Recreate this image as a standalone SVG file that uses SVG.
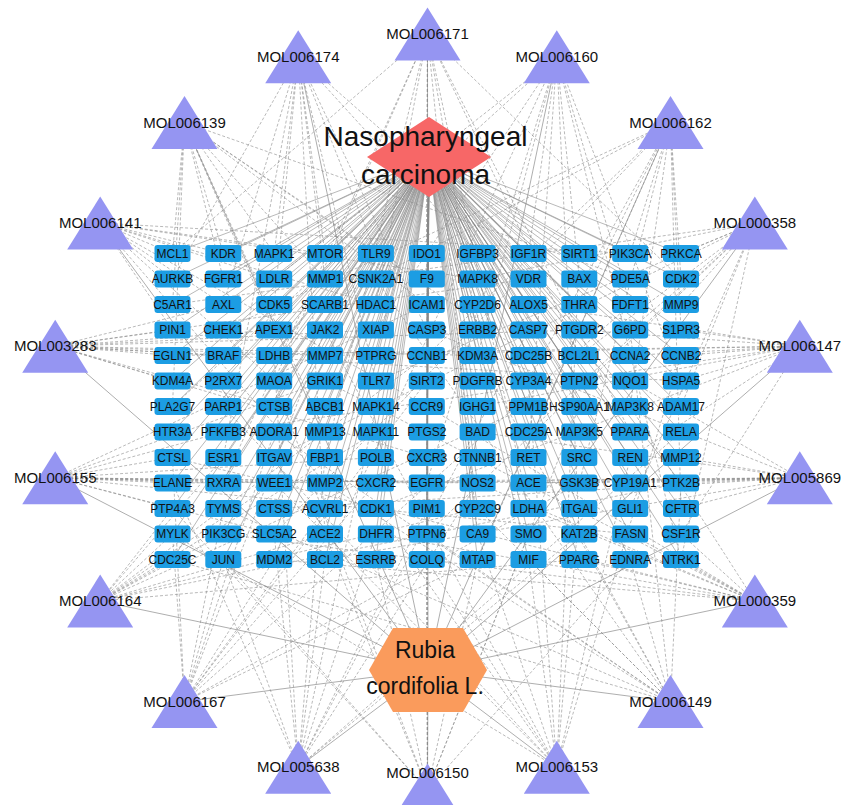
<svg xmlns="http://www.w3.org/2000/svg" xmlns:xlink="http://www.w3.org/1999/xlink" width="844" height="805" viewBox="0 0 844 805">
<style>
.e1{stroke:#8a8a8a;stroke-width:0.6;fill:none}
.e2{stroke:#8a8a8a;stroke-width:0.6;fill:none;stroke-dasharray:3 2}
.e3{stroke:#999;stroke-width:0.8;fill:none}
.genes text{font-family:"Liberation Sans",Arial,sans-serif;font-size:12px;text-anchor:middle;fill:#111}
.mols text{font-family:"Liberation Sans",Arial,sans-serif;font-size:15px;text-anchor:middle;fill:#111}
.big{font-family:"Liberation Sans",Arial,sans-serif;text-anchor:middle;fill:#111}
</style>
<defs>
<rect id="box" x="-18" y="-8.5" width="36" height="17" rx="3" fill="#1c9de3"/>
<polygon id="tri" points="0,-26.5 33,26.5 -33,26.5" fill="#9595f2"/>
</defs>
<rect width="844" height="805" fill="#fff"/>
<g id="connectors">
<path class="e3" d="M428 670L427.5 34M428 670L556.8 56.7M428 670L670.5 122.5M428 670L754.8 223M428 670L799.8 346.2M428 670L799.8 477.8M428 670L754.8 601M428 670L670.5 701.5M428 670L556.8 767.3M428 670L427.5 790M428 670L298.2 767.3M428 670L184.5 701.5M428 670L100.2 601M428 670L55.2 477.8M428 670L55.2 346.2M428 670L100.2 223M428 670L184.5 122.5M428 670L298.2 56.7"/>
<path class="e1" d="M429 157L172.5 253.5M429 157L223.3 253.5M429 157L274.2 253.5M429 157L325 253.5M429 157L375.9 253.5M429 157L426.8 253.5M429 157L477.6 253.5M429 157L528.5 253.5M429 157L579.3 253.5M429 157L630.2 253.5M429 157L681 253.5
M429 157L172.5 279M429 157L223.3 279M429 157L274.2 279M429 157L325 279M429 157L375.9 279M429 157L426.8 279M429 157L477.6 279M429 157L528.5 279M429 157L579.3 279M429 157L630.2 279M429 157L681 279
M429 157L172.5 304.5M429 157L223.3 304.5M429 157L274.2 304.5M429 157L325 304.5M429 157L375.9 304.5M429 157L426.8 304.5M429 157L477.6 304.5M429 157L528.5 304.5M429 157L579.3 304.5M429 157L630.2 304.5M429 157L681 304.5
M429 157L172.5 330M429 157L223.3 330M429 157L274.2 330M429 157L325 330M429 157L375.9 330M429 157L426.8 330M429 157L477.6 330M429 157L528.5 330M429 157L579.3 330M429 157L630.2 330M429 157L681 330
M429 157L172.5 355.5M429 157L223.3 355.5M429 157L274.2 355.5M429 157L325 355.5M429 157L375.9 355.5M429 157L426.8 355.5M429 157L477.6 355.5M429 157L528.5 355.5M429 157L579.3 355.5M429 157L630.2 355.5M429 157L681 355.5
M429 157L172.5 381M429 157L223.3 381M429 157L274.2 381M429 157L325 381M429 157L375.9 381M429 157L426.8 381M429 157L477.6 381M429 157L528.5 381M429 157L579.3 381M429 157L630.2 381M429 157L681 381
M429 157L172.5 406.5M429 157L223.3 406.5M429 157L274.2 406.5M429 157L325 406.5M429 157L375.9 406.5M429 157L426.8 406.5M429 157L477.6 406.5M429 157L528.5 406.5M429 157L579.3 406.5M429 157L630.2 406.5M429 157L681 406.5
M429 157L172.5 432M429 157L223.3 432M429 157L274.2 432M429 157L325 432M429 157L375.9 432M429 157L426.8 432M429 157L477.6 432M429 157L528.5 432M429 157L579.3 432M429 157L630.2 432M429 157L681 432
M429 157L172.5 457.5M429 157L223.3 457.5M429 157L274.2 457.5M429 157L325 457.5M429 157L375.9 457.5M429 157L426.8 457.5M429 157L477.6 457.5M429 157L528.5 457.5M429 157L579.3 457.5M429 157L630.2 457.5M429 157L681 457.5
M429 157L172.5 483M429 157L223.3 483M429 157L274.2 483M429 157L325 483M429 157L375.9 483M429 157L426.8 483M429 157L477.6 483M429 157L528.5 483M429 157L579.3 483M429 157L630.2 483M429 157L681 483
M429 157L172.5 508.5M429 157L223.3 508.5M429 157L274.2 508.5M429 157L325 508.5M429 157L375.9 508.5M429 157L426.8 508.5M429 157L477.6 508.5M429 157L528.5 508.5M429 157L579.3 508.5M429 157L630.2 508.5M429 157L681 508.5
M429 157L172.5 534M429 157L223.3 534M429 157L274.2 534M429 157L325 534M429 157L375.9 534M429 157L426.8 534M429 157L477.6 534M429 157L528.5 534M429 157L579.3 534M429 157L630.2 534M429 157L681 534
M429 157L172.5 559.5M429 157L223.3 559.5M429 157L274.2 559.5M429 157L325 559.5M429 157L375.9 559.5M429 157L426.8 559.5M429 157L477.6 559.5M429 157L528.5 559.5M429 157L579.3 559.5M429 157L630.2 559.5M429 157L681 559.5"/>
<path class="e2" d="M427.5 34L426.8 253.5M427.5 34L426.8 279M427.5 34L375.9 304.5M427.5 34L477.6 330M427.5 34L274.2 381M427.5 34L579.3 355.5M427.5 34L172.5 253.5M427.5 34L681 279M427.5 34L325 457.5M427.5 34L528.5 508.5M427.5 34L426.8 559.5M427.5 34L223.3 483M427.5 34L630.2 432M427.5 34L477.6 534"/>
<path class="e2" d="M556.8 56.7L528.5 253.5M556.8 56.7L579.3 279M556.8 56.7L630.2 304.5M556.8 56.7L477.6 355.5M556.8 56.7L681 381M556.8 56.7L375.9 330M556.8 56.7L274.2 279M556.8 56.7L528.5 457.5M556.8 56.7L579.3 534M556.8 56.7L172.5 406.5M556.8 56.7L426.8 483M556.8 56.7L681 559.5M556.8 56.7L325 559.5"/>
<path class="e2" d="M670.5 122.5L630.2 253.5M670.5 122.5L681 279M670.5 122.5L579.3 304.5M670.5 122.5L681 330M670.5 122.5L528.5 381M670.5 122.5L630.2 406.5M670.5 122.5L426.8 355.5M670.5 122.5L325 304.5M670.5 122.5L223.3 330M670.5 122.5L579.3 483M670.5 122.5L477.6 559.5M670.5 122.5L681 508.5M670.5 122.5L274.2 534"/>
<path class="e2" d="M754.8 223L681 253.5M754.8 223L681 304.5M754.8 223L630.2 330M754.8 223L579.3 355.5M754.8 223L681 406.5M754.8 223L477.6 279M754.8 223L528.5 432M754.8 223L375.9 381M754.8 223L172.5 304.5M754.8 223L274.2 457.5M754.8 223L630.2 508.5M754.8 223L426.8 534M754.8 223L681 559.5"/>
<path class="e2" d="M799.8 346.2L681 330M799.8 346.2L681 355.5M799.8 346.2L630.2 355.5M799.8 346.2L681 381M799.8 346.2L579.3 330M799.8 346.2L477.6 406.5M799.8 346.2L325 355.5M799.8 346.2L172.5 355.5M799.8 346.2L630.2 457.5M799.8 346.2L528.5 304.5M799.8 346.2L223.3 432M799.8 346.2L375.9 508.5M799.8 346.2L681 534"/>
<path class="e2" d="M799.8 477.8L681 483M799.8 477.8L630.2 483M799.8 477.8L579.3 483M799.8 477.8L528.5 483M799.8 477.8L681 457.5M799.8 477.8L681 508.5M799.8 477.8L477.6 432M799.8 477.8L375.9 483M799.8 477.8L172.5 483M799.8 477.8L274.2 508.5M799.8 477.8L630.2 381M799.8 477.8L426.8 330M799.8 477.8L325 559.5"/>
<path class="e2" d="M754.8 601L681 559.5M754.8 601L630.2 534M754.8 601L681 534M754.8 601L579.3 559.5M754.8 601L528.5 508.5M754.8 601L477.6 483M754.8 601L375.9 534M754.8 601L274.2 559.5M754.8 601L172.5 457.5M754.8 601L630.2 406.5M754.8 601L426.8 406.5M754.8 601L325 381M754.8 601L223.3 534"/>
<path class="e2" d="M670.5 701.5L630.2 559.5M670.5 701.5L579.3 534M670.5 701.5L528.5 559.5M670.5 701.5L681 483M670.5 701.5L477.6 508.5M670.5 701.5L426.8 534M670.5 701.5L325 483M670.5 701.5L223.3 508.5M670.5 701.5L630.2 330M670.5 701.5L477.6 355.5M670.5 701.5L274.2 432M670.5 701.5L172.5 559.5M670.5 701.5L375.9 279"/>
<path class="e2" d="M556.8 767.3L528.5 559.5M556.8 767.3L579.3 508.5M556.8 767.3L477.6 534M556.8 767.3L426.8 559.5M556.8 767.3L630.2 457.5M556.8 767.3L375.9 508.5M556.8 767.3L274.2 483M556.8 767.3L172.5 534M556.8 767.3L528.5 381M556.8 767.3L681 355.5M556.8 767.3L325 330M556.8 767.3L579.3 253.5M556.8 767.3L223.3 406.5"/>
<path class="e2" d="M427.5 790L426.8 559.5M427.5 790L375.9 559.5M427.5 790L477.6 559.5M427.5 790L426.8 508.5M427.5 790L325 534M427.5 790L528.5 534M427.5 790L223.3 559.5M427.5 790L630.2 559.5M427.5 790L426.8 432M427.5 790L274.2 381M427.5 790L579.3 406.5M427.5 790L426.8 304.5M427.5 790L172.5 508.5"/>
<path class="e2" d="M298.2 767.3L325 559.5M298.2 767.3L274.2 534M298.2 767.3L375.9 534M298.2 767.3L223.3 559.5M298.2 767.3L426.8 508.5M298.2 767.3L172.5 483M298.2 767.3L325 457.5M298.2 767.3L477.6 483M298.2 767.3L579.3 534M298.2 767.3L681 432M298.2 767.3L274.2 355.5M298.2 767.3L528.5 330M298.2 767.3L375.9 406.5"/>
<path class="e2" d="M184.5 701.5L223.3 559.5M184.5 701.5L172.5 534M184.5 701.5L274.2 559.5M184.5 701.5L223.3 508.5M184.5 701.5L325 508.5M184.5 701.5L172.5 457.5M184.5 701.5L375.9 483M184.5 701.5L274.2 432M184.5 701.5L477.6 559.5M184.5 701.5L579.3 483M184.5 701.5L426.8 381M184.5 701.5L630.2 304.5M184.5 701.5L325 330"/>
<path class="e2" d="M100.2 601L172.5 559.5M100.2 601L172.5 534M100.2 601L223.3 534M100.2 601L172.5 508.5M100.2 601L274.2 483M100.2 601L223.3 457.5M100.2 601L325 534M100.2 601L375.9 432M100.2 601L477.6 508.5M100.2 601L579.3 559.5M100.2 601L426.8 355.5M100.2 601L528.5 406.5M100.2 601L681 483"/>
<path class="e2" d="M55.2 477.8L172.5 483M55.2 477.8L223.3 483M55.2 477.8L274.2 483M55.2 477.8L325 483M55.2 477.8L172.5 457.5M55.2 477.8L172.5 508.5M55.2 477.8L223.3 432M55.2 477.8L274.2 534M55.2 477.8L375.9 457.5M55.2 477.8L477.6 483M55.2 477.8L579.3 483M55.2 477.8L325 381M55.2 477.8L426.8 304.5M55.2 477.8L630.2 534"/>
<path class="e2" d="M55.2 346.2L172.5 330M55.2 346.2L172.5 355.5M55.2 346.2L223.3 355.5M55.2 346.2L274.2 330M55.2 346.2L172.5 381M55.2 346.2L223.3 304.5M55.2 346.2L325 355.5M55.2 346.2L375.9 330M55.2 346.2L274.2 406.5M55.2 346.2L477.6 355.5M55.2 346.2L579.3 330M55.2 346.2L426.8 457.5M55.2 346.2L528.5 279M55.2 346.2L681 381"/>
<path class="e2" d="M100.2 223L172.5 253.5M100.2 223L223.3 253.5M100.2 223L172.5 279M100.2 223L274.2 279M100.2 223L223.3 304.5M100.2 223L325 253.5M100.2 223L172.5 330M100.2 223L375.9 304.5M100.2 223L274.2 381M100.2 223L477.6 279M100.2 223L426.8 406.5M100.2 223L630.2 253.5M100.2 223L325 483"/>
<path class="e2" d="M184.5 122.5L172.5 253.5M184.5 122.5L223.3 253.5M184.5 122.5L274.2 253.5M184.5 122.5L223.3 279M184.5 122.5L325 279M184.5 122.5L172.5 304.5M184.5 122.5L375.9 253.5M184.5 122.5L274.2 330M184.5 122.5L426.8 304.5M184.5 122.5L172.5 406.5M184.5 122.5L528.5 355.5M184.5 122.5L325 432M184.5 122.5L630.2 279"/>
<path class="e2" d="M298.2 56.7L274.2 253.5M298.2 56.7L325 253.5M298.2 56.7L325 279M298.2 56.7L375.9 253.5M298.2 56.7L223.3 304.5M298.2 56.7L274.2 304.5M298.2 56.7L172.5 279M298.2 56.7L426.8 330M298.2 56.7L375.9 381M298.2 56.7L477.6 253.5M298.2 56.7L579.3 304.5M298.2 56.7L223.3 457.5M298.2 56.7L325 534"/>
</g>
<g id="nasopharyngeal-carcinoma">
<polygon points="367,157 429,117 491,157 429,197" fill="#f76767"/>
<text class="big" x="425.5" y="146" font-size="28">Nasopharyngeal</text>
<text class="big" x="425.5" y="184" font-size="28">carcinoma</text>
</g>
<g id="rubia-cordifolia">
<polygon points="369,670 393,628 463,628 487,670 463,712 393,712" fill="#fa9b5c"/>
<text class="big" x="425" y="658" font-size="23">Rubia</text>
<text class="big" x="425" y="694" font-size="23">cordifolia L.</text>
</g>
<g class="genes">
<g id="MCL1" transform="translate(172.5 253.5)"><use href="#box"/><text y="4.3">MCL1</text></g>
<g id="KDR" transform="translate(223.3 253.5)"><use href="#box"/><text y="4.3">KDR</text></g>
<g id="MAPK1" transform="translate(274.2 253.5)"><use href="#box"/><text y="4.3">MAPK1</text></g>
<g id="MTOR" transform="translate(325 253.5)"><use href="#box"/><text y="4.3">MTOR</text></g>
<g id="TLR9" transform="translate(375.9 253.5)"><use href="#box"/><text y="4.3">TLR9</text></g>
<g id="IDO1" transform="translate(426.8 253.5)"><use href="#box"/><text y="4.3">IDO1</text></g>
<g id="IGFBP3" transform="translate(477.6 253.5)"><use href="#box"/><text y="4.3">IGFBP3</text></g>
<g id="IGF1R" transform="translate(528.5 253.5)"><use href="#box"/><text y="4.3">IGF1R</text></g>
<g id="SIRT1" transform="translate(579.3 253.5)"><use href="#box"/><text y="4.3">SIRT1</text></g>
<g id="PIK3CA" transform="translate(630.2 253.5)"><use href="#box"/><text y="4.3">PIK3CA</text></g>
<g id="PRKCA" transform="translate(681 253.5)"><use href="#box"/><text y="4.3">PRKCA</text></g>
<g id="AURKB" transform="translate(172.5 279)"><use href="#box"/><text y="4.3">AURKB</text></g>
<g id="FGFR1" transform="translate(223.3 279)"><use href="#box"/><text y="4.3">FGFR1</text></g>
<g id="LDLR" transform="translate(274.2 279)"><use href="#box"/><text y="4.3">LDLR</text></g>
<g id="MMP1" transform="translate(325 279)"><use href="#box"/><text y="4.3">MMP1</text></g>
<g id="CSNK2A1" transform="translate(375.9 279)"><use href="#box"/><text y="4.3">CSNK2A1</text></g>
<g id="F9" transform="translate(426.8 279)"><use href="#box"/><text y="4.3">F9</text></g>
<g id="MAPK8" transform="translate(477.6 279)"><use href="#box"/><text y="4.3">MAPK8</text></g>
<g id="VDR" transform="translate(528.5 279)"><use href="#box"/><text y="4.3">VDR</text></g>
<g id="BAX" transform="translate(579.3 279)"><use href="#box"/><text y="4.3">BAX</text></g>
<g id="PDE5A" transform="translate(630.2 279)"><use href="#box"/><text y="4.3">PDE5A</text></g>
<g id="CDK2" transform="translate(681 279)"><use href="#box"/><text y="4.3">CDK2</text></g>
<g id="C5AR1" transform="translate(172.5 304.5)"><use href="#box"/><text y="4.3">C5AR1</text></g>
<g id="AXL" transform="translate(223.3 304.5)"><use href="#box"/><text y="4.3">AXL</text></g>
<g id="CDK5" transform="translate(274.2 304.5)"><use href="#box"/><text y="4.3">CDK5</text></g>
<g id="SCARB1" transform="translate(325 304.5)"><use href="#box"/><text y="4.3">SCARB1</text></g>
<g id="HDAC1" transform="translate(375.9 304.5)"><use href="#box"/><text y="4.3">HDAC1</text></g>
<g id="ICAM1" transform="translate(426.8 304.5)"><use href="#box"/><text y="4.3">ICAM1</text></g>
<g id="CYP2D6" transform="translate(477.6 304.5)"><use href="#box"/><text y="4.3">CYP2D6</text></g>
<g id="ALOX5" transform="translate(528.5 304.5)"><use href="#box"/><text y="4.3">ALOX5</text></g>
<g id="THRA" transform="translate(579.3 304.5)"><use href="#box"/><text y="4.3">THRA</text></g>
<g id="FDFT1" transform="translate(630.2 304.5)"><use href="#box"/><text y="4.3">FDFT1</text></g>
<g id="MMP9" transform="translate(681 304.5)"><use href="#box"/><text y="4.3">MMP9</text></g>
<g id="PIN1" transform="translate(172.5 330)"><use href="#box"/><text y="4.3">PIN1</text></g>
<g id="CHEK1" transform="translate(223.3 330)"><use href="#box"/><text y="4.3">CHEK1</text></g>
<g id="APEX1" transform="translate(274.2 330)"><use href="#box"/><text y="4.3">APEX1</text></g>
<g id="JAK2" transform="translate(325 330)"><use href="#box"/><text y="4.3">JAK2</text></g>
<g id="XIAP" transform="translate(375.9 330)"><use href="#box"/><text y="4.3">XIAP</text></g>
<g id="CASP3" transform="translate(426.8 330)"><use href="#box"/><text y="4.3">CASP3</text></g>
<g id="ERBB2" transform="translate(477.6 330)"><use href="#box"/><text y="4.3">ERBB2</text></g>
<g id="CASP7" transform="translate(528.5 330)"><use href="#box"/><text y="4.3">CASP7</text></g>
<g id="PTGDR2" transform="translate(579.3 330)"><use href="#box"/><text y="4.3">PTGDR2</text></g>
<g id="G6PD" transform="translate(630.2 330)"><use href="#box"/><text y="4.3">G6PD</text></g>
<g id="S1PR3" transform="translate(681 330)"><use href="#box"/><text y="4.3">S1PR3</text></g>
<g id="EGLN1" transform="translate(172.5 355.5)"><use href="#box"/><text y="4.3">EGLN1</text></g>
<g id="BRAF" transform="translate(223.3 355.5)"><use href="#box"/><text y="4.3">BRAF</text></g>
<g id="LDHB" transform="translate(274.2 355.5)"><use href="#box"/><text y="4.3">LDHB</text></g>
<g id="MMP7" transform="translate(325 355.5)"><use href="#box"/><text y="4.3">MMP7</text></g>
<g id="PTPRG" transform="translate(375.9 355.5)"><use href="#box"/><text y="4.3">PTPRG</text></g>
<g id="CCNB1" transform="translate(426.8 355.5)"><use href="#box"/><text y="4.3">CCNB1</text></g>
<g id="KDM3A" transform="translate(477.6 355.5)"><use href="#box"/><text y="4.3">KDM3A</text></g>
<g id="CDC25B" transform="translate(528.5 355.5)"><use href="#box"/><text y="4.3">CDC25B</text></g>
<g id="BCL2L1" transform="translate(579.3 355.5)"><use href="#box"/><text y="4.3">BCL2L1</text></g>
<g id="CCNA2" transform="translate(630.2 355.5)"><use href="#box"/><text y="4.3">CCNA2</text></g>
<g id="CCNB2" transform="translate(681 355.5)"><use href="#box"/><text y="4.3">CCNB2</text></g>
<g id="KDM4A" transform="translate(172.5 381)"><use href="#box"/><text y="4.3">KDM4A</text></g>
<g id="P2RX7" transform="translate(223.3 381)"><use href="#box"/><text y="4.3">P2RX7</text></g>
<g id="MAOA" transform="translate(274.2 381)"><use href="#box"/><text y="4.3">MAOA</text></g>
<g id="GRIK1" transform="translate(325 381)"><use href="#box"/><text y="4.3">GRIK1</text></g>
<g id="TLR7" transform="translate(375.9 381)"><use href="#box"/><text y="4.3">TLR7</text></g>
<g id="SIRT2" transform="translate(426.8 381)"><use href="#box"/><text y="4.3">SIRT2</text></g>
<g id="PDGFRB" transform="translate(477.6 381)"><use href="#box"/><text y="4.3">PDGFRB</text></g>
<g id="CYP3A4" transform="translate(528.5 381)"><use href="#box"/><text y="4.3">CYP3A4</text></g>
<g id="PTPN2" transform="translate(579.3 381)"><use href="#box"/><text y="4.3">PTPN2</text></g>
<g id="NQO1" transform="translate(630.2 381)"><use href="#box"/><text y="4.3">NQO1</text></g>
<g id="HSPA5" transform="translate(681 381)"><use href="#box"/><text y="4.3">HSPA5</text></g>
<g id="PLA2G7" transform="translate(172.5 406.5)"><use href="#box"/><text y="4.3">PLA2G7</text></g>
<g id="PARP1" transform="translate(223.3 406.5)"><use href="#box"/><text y="4.3">PARP1</text></g>
<g id="CTSB" transform="translate(274.2 406.5)"><use href="#box"/><text y="4.3">CTSB</text></g>
<g id="ABCB1" transform="translate(325 406.5)"><use href="#box"/><text y="4.3">ABCB1</text></g>
<g id="MAPK14" transform="translate(375.9 406.5)"><use href="#box"/><text y="4.3">MAPK14</text></g>
<g id="CCR9" transform="translate(426.8 406.5)"><use href="#box"/><text y="4.3">CCR9</text></g>
<g id="IGHG1" transform="translate(477.6 406.5)"><use href="#box"/><text y="4.3">IGHG1</text></g>
<g id="PPM1B" transform="translate(528.5 406.5)"><use href="#box"/><text y="4.3">PPM1B</text></g>
<g id="HSP90AA1" transform="translate(579.3 406.5)"><use href="#box"/><text y="4.3">HSP90AA1</text></g>
<g id="MAP3K8" transform="translate(630.2 406.5)"><use href="#box"/><text y="4.3">MAP3K8</text></g>
<g id="ADAM17" transform="translate(681 406.5)"><use href="#box"/><text y="4.3">ADAM17</text></g>
<g id="HTR3A" transform="translate(172.5 432)"><use href="#box"/><text y="4.3">HTR3A</text></g>
<g id="PFKFB3" transform="translate(223.3 432)"><use href="#box"/><text y="4.3">PFKFB3</text></g>
<g id="ADORA1" transform="translate(274.2 432)"><use href="#box"/><text y="4.3">ADORA1</text></g>
<g id="MMP13" transform="translate(325 432)"><use href="#box"/><text y="4.3">MMP13</text></g>
<g id="MAPK11" transform="translate(375.9 432)"><use href="#box"/><text y="4.3">MAPK11</text></g>
<g id="PTGS2" transform="translate(426.8 432)"><use href="#box"/><text y="4.3">PTGS2</text></g>
<g id="BAD" transform="translate(477.6 432)"><use href="#box"/><text y="4.3">BAD</text></g>
<g id="CDC25A" transform="translate(528.5 432)"><use href="#box"/><text y="4.3">CDC25A</text></g>
<g id="MAP3K5" transform="translate(579.3 432)"><use href="#box"/><text y="4.3">MAP3K5</text></g>
<g id="PPARA" transform="translate(630.2 432)"><use href="#box"/><text y="4.3">PPARA</text></g>
<g id="RELA" transform="translate(681 432)"><use href="#box"/><text y="4.3">RELA</text></g>
<g id="CTSL" transform="translate(172.5 457.5)"><use href="#box"/><text y="4.3">CTSL</text></g>
<g id="ESR1" transform="translate(223.3 457.5)"><use href="#box"/><text y="4.3">ESR1</text></g>
<g id="ITGAV" transform="translate(274.2 457.5)"><use href="#box"/><text y="4.3">ITGAV</text></g>
<g id="FBP1" transform="translate(325 457.5)"><use href="#box"/><text y="4.3">FBP1</text></g>
<g id="POLB" transform="translate(375.9 457.5)"><use href="#box"/><text y="4.3">POLB</text></g>
<g id="CXCR3" transform="translate(426.8 457.5)"><use href="#box"/><text y="4.3">CXCR3</text></g>
<g id="CTNNB1" transform="translate(477.6 457.5)"><use href="#box"/><text y="4.3">CTNNB1</text></g>
<g id="RET" transform="translate(528.5 457.5)"><use href="#box"/><text y="4.3">RET</text></g>
<g id="SRC" transform="translate(579.3 457.5)"><use href="#box"/><text y="4.3">SRC</text></g>
<g id="REN" transform="translate(630.2 457.5)"><use href="#box"/><text y="4.3">REN</text></g>
<g id="MMP12" transform="translate(681 457.5)"><use href="#box"/><text y="4.3">MMP12</text></g>
<g id="ELANE" transform="translate(172.5 483)"><use href="#box"/><text y="4.3">ELANE</text></g>
<g id="RXRA" transform="translate(223.3 483)"><use href="#box"/><text y="4.3">RXRA</text></g>
<g id="WEE1" transform="translate(274.2 483)"><use href="#box"/><text y="4.3">WEE1</text></g>
<g id="MMP2" transform="translate(325 483)"><use href="#box"/><text y="4.3">MMP2</text></g>
<g id="CXCR2" transform="translate(375.9 483)"><use href="#box"/><text y="4.3">CXCR2</text></g>
<g id="EGFR" transform="translate(426.8 483)"><use href="#box"/><text y="4.3">EGFR</text></g>
<g id="NOS2" transform="translate(477.6 483)"><use href="#box"/><text y="4.3">NOS2</text></g>
<g id="ACE" transform="translate(528.5 483)"><use href="#box"/><text y="4.3">ACE</text></g>
<g id="GSK3B" transform="translate(579.3 483)"><use href="#box"/><text y="4.3">GSK3B</text></g>
<g id="CYP19A1" transform="translate(630.2 483)"><use href="#box"/><text y="4.3">CYP19A1</text></g>
<g id="PTK2B" transform="translate(681 483)"><use href="#box"/><text y="4.3">PTK2B</text></g>
<g id="PTP4A3" transform="translate(172.5 508.5)"><use href="#box"/><text y="4.3">PTP4A3</text></g>
<g id="TYMS" transform="translate(223.3 508.5)"><use href="#box"/><text y="4.3">TYMS</text></g>
<g id="CTSS" transform="translate(274.2 508.5)"><use href="#box"/><text y="4.3">CTSS</text></g>
<g id="ACVRL1" transform="translate(325 508.5)"><use href="#box"/><text y="4.3">ACVRL1</text></g>
<g id="CDK1" transform="translate(375.9 508.5)"><use href="#box"/><text y="4.3">CDK1</text></g>
<g id="PIM1" transform="translate(426.8 508.5)"><use href="#box"/><text y="4.3">PIM1</text></g>
<g id="CYP2C9" transform="translate(477.6 508.5)"><use href="#box"/><text y="4.3">CYP2C9</text></g>
<g id="LDHA" transform="translate(528.5 508.5)"><use href="#box"/><text y="4.3">LDHA</text></g>
<g id="ITGAL" transform="translate(579.3 508.5)"><use href="#box"/><text y="4.3">ITGAL</text></g>
<g id="GLI1" transform="translate(630.2 508.5)"><use href="#box"/><text y="4.3">GLI1</text></g>
<g id="CFTR" transform="translate(681 508.5)"><use href="#box"/><text y="4.3">CFTR</text></g>
<g id="MYLK" transform="translate(172.5 534)"><use href="#box"/><text y="4.3">MYLK</text></g>
<g id="PIK3CG" transform="translate(223.3 534)"><use href="#box"/><text y="4.3">PIK3CG</text></g>
<g id="SLC5A2" transform="translate(274.2 534)"><use href="#box"/><text y="4.3">SLC5A2</text></g>
<g id="ACE2" transform="translate(325 534)"><use href="#box"/><text y="4.3">ACE2</text></g>
<g id="DHFR" transform="translate(375.9 534)"><use href="#box"/><text y="4.3">DHFR</text></g>
<g id="PTPN6" transform="translate(426.8 534)"><use href="#box"/><text y="4.3">PTPN6</text></g>
<g id="CA9" transform="translate(477.6 534)"><use href="#box"/><text y="4.3">CA9</text></g>
<g id="SMO" transform="translate(528.5 534)"><use href="#box"/><text y="4.3">SMO</text></g>
<g id="KAT2B" transform="translate(579.3 534)"><use href="#box"/><text y="4.3">KAT2B</text></g>
<g id="FASN" transform="translate(630.2 534)"><use href="#box"/><text y="4.3">FASN</text></g>
<g id="CSF1R" transform="translate(681 534)"><use href="#box"/><text y="4.3">CSF1R</text></g>
<g id="CDC25C" transform="translate(172.5 559.5)"><use href="#box"/><text y="4.3">CDC25C</text></g>
<g id="JUN" transform="translate(223.3 559.5)"><use href="#box"/><text y="4.3">JUN</text></g>
<g id="MDM2" transform="translate(274.2 559.5)"><use href="#box"/><text y="4.3">MDM2</text></g>
<g id="BCL2" transform="translate(325 559.5)"><use href="#box"/><text y="4.3">BCL2</text></g>
<g id="ESRRB" transform="translate(375.9 559.5)"><use href="#box"/><text y="4.3">ESRRB</text></g>
<g id="COLQ" transform="translate(426.8 559.5)"><use href="#box"/><text y="4.3">COLQ</text></g>
<g id="MTAP" transform="translate(477.6 559.5)"><use href="#box"/><text y="4.3">MTAP</text></g>
<g id="MIF" transform="translate(528.5 559.5)"><use href="#box"/><text y="4.3">MIF</text></g>
<g id="PPARG" transform="translate(579.3 559.5)"><use href="#box"/><text y="4.3">PPARG</text></g>
<g id="EDNRA" transform="translate(630.2 559.5)"><use href="#box"/><text y="4.3">EDNRA</text></g>
<g id="NTRK1" transform="translate(681 559.5)"><use href="#box"/><text y="4.3">NTRK1</text></g>
</g>
<g class="mols">
<g id="MOL006171" transform="translate(427.5 34)"><use href="#tri"/><text y="5">MOL006171</text></g>
<g id="MOL006160" transform="translate(556.8 56.7)"><use href="#tri"/><text y="5">MOL006160</text></g>
<g id="MOL006162" transform="translate(670.5 122.5)"><use href="#tri"/><text y="5">MOL006162</text></g>
<g id="MOL000358" transform="translate(754.8 223)"><use href="#tri"/><text y="5">MOL000358</text></g>
<g id="MOL006147" transform="translate(799.8 346.2)"><use href="#tri"/><text y="5">MOL006147</text></g>
<g id="MOL005869" transform="translate(799.8 477.8)"><use href="#tri"/><text y="5">MOL005869</text></g>
<g id="MOL000359" transform="translate(754.8 601)"><use href="#tri"/><text y="5">MOL000359</text></g>
<g id="MOL006149" transform="translate(670.5 701.5)"><use href="#tri"/><text y="5">MOL006149</text></g>
<g id="MOL006153" transform="translate(556.8 767.3)"><use href="#tri"/><text y="5">MOL006153</text></g>
<g id="MOL006150" transform="translate(427.5 790)"><use href="#tri"/><text y="-12">MOL006150</text></g>
<g id="MOL005638" transform="translate(298.2 767.3)"><use href="#tri"/><text y="5">MOL005638</text></g>
<g id="MOL006167" transform="translate(184.5 701.5)"><use href="#tri"/><text y="5">MOL006167</text></g>
<g id="MOL006164" transform="translate(100.2 601)"><use href="#tri"/><text y="5">MOL006164</text></g>
<g id="MOL006155" transform="translate(55.2 477.8)"><use href="#tri"/><text y="5">MOL006155</text></g>
<g id="MOL003283" transform="translate(55.2 346.2)"><use href="#tri"/><text y="5">MOL003283</text></g>
<g id="MOL006141" transform="translate(100.2 223)"><use href="#tri"/><text y="5">MOL006141</text></g>
<g id="MOL006139" transform="translate(184.5 122.5)"><use href="#tri"/><text y="5">MOL006139</text></g>
<g id="MOL006174" transform="translate(298.2 56.7)"><use href="#tri"/><text y="5">MOL006174</text></g>
</g>
</svg>
